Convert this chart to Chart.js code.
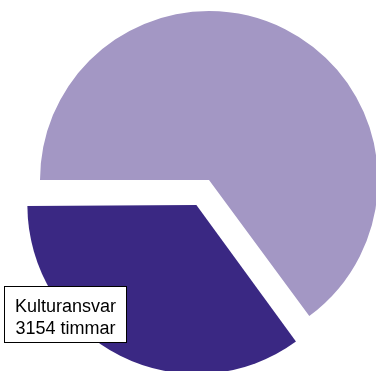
<!DOCTYPE html>
<html>
<head>
<meta charset="utf-8">
<script src="https://cdn.jsdelivr.net/npm/chart.js@4"></script>
<style>
  html, body { margin: 0; padding: 0; background: #fff; overflow: hidden; width: 376px; height: 371px; }
  #wrap { position: absolute; left: -16px; top: -45px; width: 450px; height: 450px; }
</style>
</head>
<body>
<div id="wrap"><canvas id="myChart" width="450" height="450"></canvas></div>
<script>
const categories = ['Kulturansvar', 'Övrigt'];
const hours = [3154, 5830];
const colors = ['#3a2883', '#a397c4'];
const offsets = [112, 0];

// the exploded slice would otherwise grow a bit, keep it the same size as the rest
const keepRadius = {
  id: 'keepRadius',
  afterDatasetsUpdate(chart) {
    const meta = chart.getDatasetMeta(0);
    meta.data.forEach((arc, i) => {
      const t = (offsets[i] || 0) / 4;
      const fix = 1 - Math.sin(Math.min(Math.PI, arc.circumference));
      arc.outerRadius = arc.outerRadius - t * fix;
    });
  }
};

// boxed label for the first slice
const sliceLabel = {
  id: 'sliceLabel',
  afterDraw(chart) {
    const ctx = chart.ctx;
    const x = 20, y = 331, w = 123, h = 57;
    ctx.save();
    ctx.fillStyle = '#fff';
    ctx.fillRect(x, y, w, h);
    ctx.strokeStyle = '#000';
    ctx.lineWidth = 1;
    ctx.strokeRect(x + 0.5, y + 0.5, w - 1, h - 1);
    ctx.fillStyle = '#000';
    ctx.font = '18px "Liberation Sans", Arial, sans-serif';
    ctx.textAlign = 'center';
    ctx.textBaseline = 'alphabetic';
    ctx.fillText(categories[0], x + w / 2, y + 26);
    ctx.fillText(hours[0] + ' timmar', x + w / 2, y + 48);
    ctx.restore();
  }
};

new Chart(document.getElementById('myChart'), {
  type: 'pie',
  data: {
    labels: categories,
    datasets: [{
      data: hours,
      backgroundColor: colors,
      borderWidth: 0,
      offset: offsets,
      hoverOffset: 0
    }]
  },
  options: {
    responsive: false,
    animation: false,
    events: [],
    rotation: 143.6,
    layout: { padding: 0 },
    plugins: {
      legend: { display: false },
      tooltip: { enabled: false }
    }
  },
  plugins: [keepRadius, sliceLabel]
});
</script>
</body>
</html>
